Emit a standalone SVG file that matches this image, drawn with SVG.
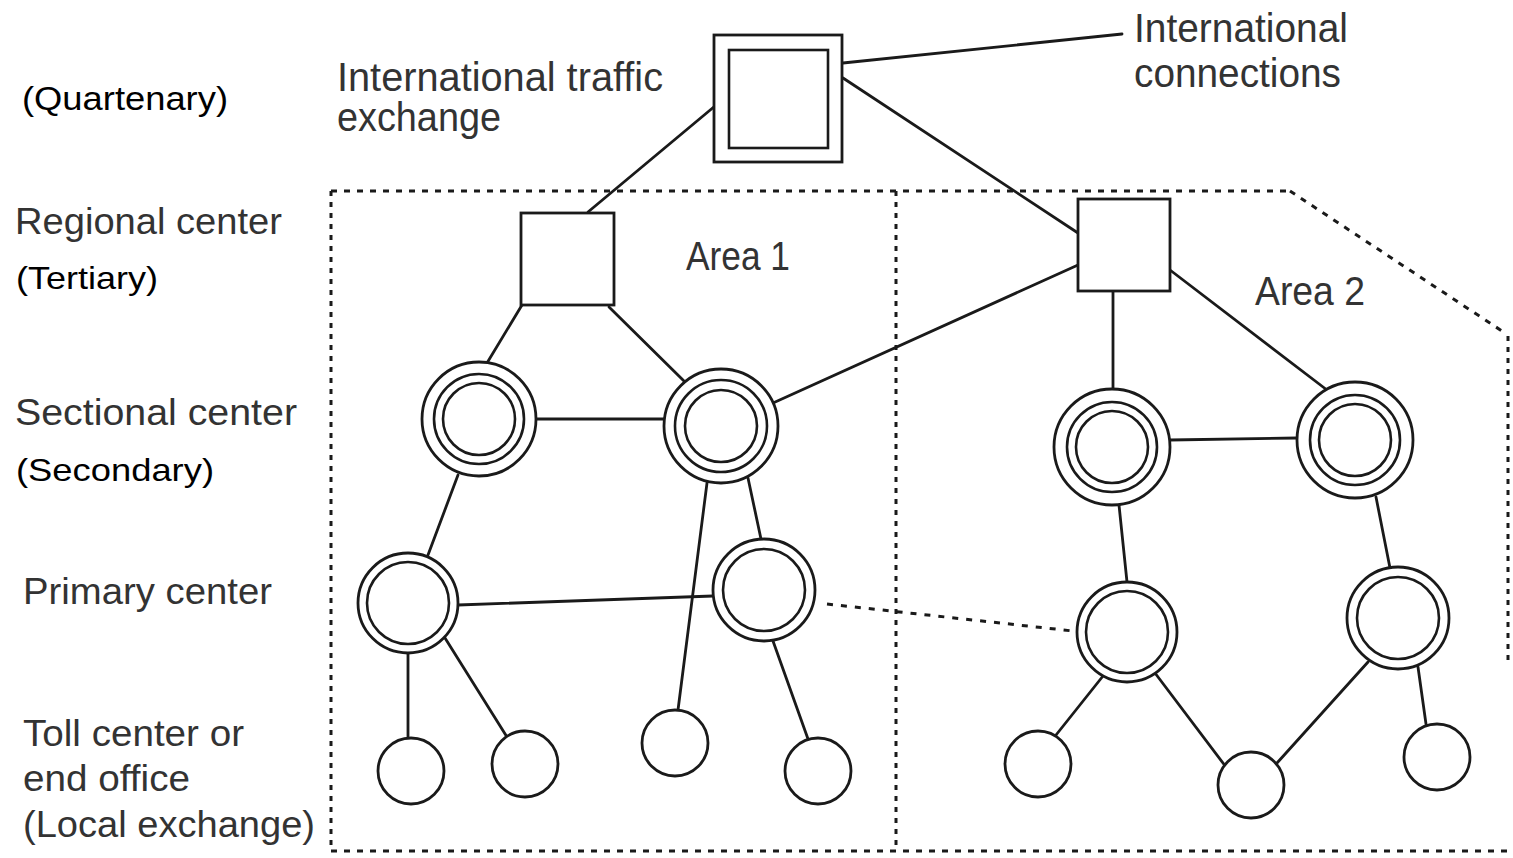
<svg xmlns="http://www.w3.org/2000/svg" width="1513" height="858" viewBox="0 0 1513 858">
<style>
.bg{fill:#ffffff}
.ln{stroke:#1a1a1a;stroke-width:2.8;fill:none;stroke-linecap:round}
.dot{stroke:#1a1a1a;stroke-width:3;fill:none}
.dh{stroke-dasharray:6 7}
.dv{stroke-dasharray:5 6}
.nd{stroke:#1a1a1a;stroke-width:2.8;fill:#ffffff}
.in{stroke:#1a1a1a;stroke-width:2.6;fill:none}
.cond{font-family:"Liberation Sans","Arial",sans-serif;fill:#333333}
.ar{font-family:"Liberation Sans","Arial",sans-serif;fill:#000000}
</style>
<rect class="bg" x="0" y="0" width="1513" height="858"/>

<g id="boundaries">
<line class="dot dh" x1="331" y1="191" x2="1290" y2="191"/>
<line class="dot dh" x1="1290" y1="191" x2="1505" y2="333"/>
<line class="dot dv" x1="1508" y1="336" x2="1508" y2="660"/>
<line class="dot dv" x1="331" y1="191" x2="331" y2="851"/>
<line class="dot dh" x1="331" y1="851" x2="1513" y2="851"/>
<line class="dot dv" x1="896" y1="191" x2="896" y2="851"/>
</g>

<g id="connectors">
<line class="ln" x1="843" y1="63" x2="1122" y2="34"/>
<line class="ln" x1="715" y1="106" x2="588" y2="212"/>
<line class="ln" x1="843" y1="78" x2="1078" y2="233"/>
<line class="ln" x1="522" y1="305" x2="487" y2="363"/>
<line class="ln" x1="609" y1="307" x2="685" y2="382"/>
<line class="ln" x1="536" y1="419" x2="665" y2="419"/>
<line class="ln" x1="773" y1="403" x2="1078" y2="265"/>
<line class="ln" x1="458" y1="475" x2="428" y2="555"/>
<line class="ln" x1="458" y1="605" x2="713" y2="596"/>
<line class="ln" x1="748" y1="478" x2="761" y2="539"/>
<line class="ln" x1="707" y1="483" x2="678" y2="710"/>
<line class="ln" x1="408" y1="653" x2="408" y2="738"/>
<line class="ln" x1="445" y1="638" x2="507" y2="737"/>
<line class="ln" x1="773" y1="641" x2="808" y2="739"/>
<line class="dot" stroke-dasharray="6 8" x1="827" y1="604" x2="1082" y2="632"/>
<line class="ln" x1="1113" y1="291" x2="1113" y2="389"/>
<line class="ln" x1="1170" y1="270" x2="1327" y2="390"/>
<line class="ln" x1="1170" y1="440" x2="1297" y2="438"/>
<line class="ln" x1="1119" y1="505" x2="1127" y2="582"/>
<line class="ln" x1="1376" y1="497" x2="1390" y2="568"/>
<line class="ln" x1="1103" y1="676" x2="1056" y2="735"/>
<line class="ln" x1="1155" y1="673" x2="1226" y2="767"/>
<line class="ln" x1="1368" y1="662" x2="1277" y2="763"/>
<line class="ln" x1="1418" y1="667" x2="1426" y2="724"/>
</g>

<g id="intl-exchange">
<rect class="nd" x="714" y="35" width="128" height="127" stroke-width="3"/>
<rect class="in" x="729" y="50" width="99" height="98" stroke-width="3.4"/>
</g>
<g id="regional-1"><rect class="nd" x="521" y="213" width="93" height="92" stroke-width="3.2"/></g>
<g id="regional-2"><rect class="nd" x="1078" y="199" width="92" height="92" stroke-width="3.2"/></g>

<g id="sectional-1"><circle class="nd" cx="479" cy="419" r="57"/><circle class="in" cx="479" cy="419" r="45"/><circle class="in" cx="479" cy="419" r="36"/></g>
<g id="sectional-2"><circle class="nd" cx="721" cy="426" r="57"/><circle class="in" cx="721" cy="426" r="46"/><circle class="in" cx="721" cy="426" r="36"/></g>
<g id="sectional-3"><circle class="nd" cx="1112" cy="447" r="58"/><circle class="in" cx="1112" cy="447" r="45"/><circle class="in" cx="1112" cy="447" r="36"/></g>
<g id="sectional-4"><circle class="nd" cx="1355" cy="440" r="58"/><circle class="in" cx="1355" cy="440" r="45"/><circle class="in" cx="1355" cy="440" r="36"/></g>

<g id="primary-1"><circle class="nd" cx="408" cy="603" r="50"/><circle class="in" cx="408" cy="603" r="41"/></g>
<g id="primary-2"><circle class="nd" cx="764" cy="590" r="51"/><circle class="in" cx="764" cy="590" r="41"/></g>
<g id="primary-3"><circle class="nd" cx="1127" cy="632" r="50"/><circle class="in" cx="1127" cy="632" r="41"/></g>
<g id="primary-4"><circle class="nd" cx="1398" cy="618" r="51"/><circle class="in" cx="1398" cy="618" r="41"/></g>

<g id="end-1"><circle class="nd" cx="411" cy="771" r="33"/></g>
<g id="end-2"><circle class="nd" cx="525" cy="764" r="33"/></g>
<g id="end-3"><circle class="nd" cx="675" cy="743" r="33"/></g>
<g id="end-4"><circle class="nd" cx="818" cy="771" r="33"/></g>
<g id="end-5"><circle class="nd" cx="1038" cy="764" r="33"/></g>
<g id="end-6"><circle class="nd" cx="1251" cy="785" r="33"/></g>
<g id="end-7"><circle class="nd" cx="1437" cy="757" r="33"/></g>

<g id="labels">
<text class="ar" x="22" y="110" font-size="34" textLength="206" lengthAdjust="spacingAndGlyphs">(Quartenary)</text>
<text class="cond" x="337" y="91" font-size="40" textLength="326" lengthAdjust="spacingAndGlyphs">International traffic</text>
<text class="cond" x="337" y="131" font-size="40" textLength="164" lengthAdjust="spacingAndGlyphs">exchange</text>
<text class="cond" x="1134" y="42" font-size="40" textLength="214" lengthAdjust="spacingAndGlyphs">International</text>
<text class="cond" x="1134" y="87" font-size="40" textLength="207" lengthAdjust="spacingAndGlyphs">connections</text>
<text class="cond" x="15" y="234" font-size="36" textLength="267" lengthAdjust="spacingAndGlyphs">Regional center</text>
<text class="ar" x="16" y="289" font-size="32" textLength="142" lengthAdjust="spacingAndGlyphs">(Tertiary)</text>
<text class="cond" x="15" y="425" font-size="36" textLength="282" lengthAdjust="spacingAndGlyphs">Sectional center</text>
<text class="ar" x="16" y="481" font-size="32" textLength="198" lengthAdjust="spacingAndGlyphs">(Secondary)</text>
<text class="cond" x="23" y="604" font-size="36" textLength="249" lengthAdjust="spacingAndGlyphs">Primary center</text>
<text class="cond" x="23" y="746" font-size="36" textLength="221" lengthAdjust="spacingAndGlyphs">Toll center or</text>
<text class="cond" x="23" y="791" font-size="36" textLength="167" lengthAdjust="spacingAndGlyphs">end office</text>
<text class="cond" x="23" y="837" font-size="36" textLength="292" lengthAdjust="spacingAndGlyphs">(Local exchange)</text>
<text class="cond" x="686" y="270" font-size="40" textLength="104" lengthAdjust="spacingAndGlyphs">Area 1</text>
<text class="cond" x="1255" y="305" font-size="40" textLength="110" lengthAdjust="spacingAndGlyphs">Area 2</text>
</g>
</svg>
